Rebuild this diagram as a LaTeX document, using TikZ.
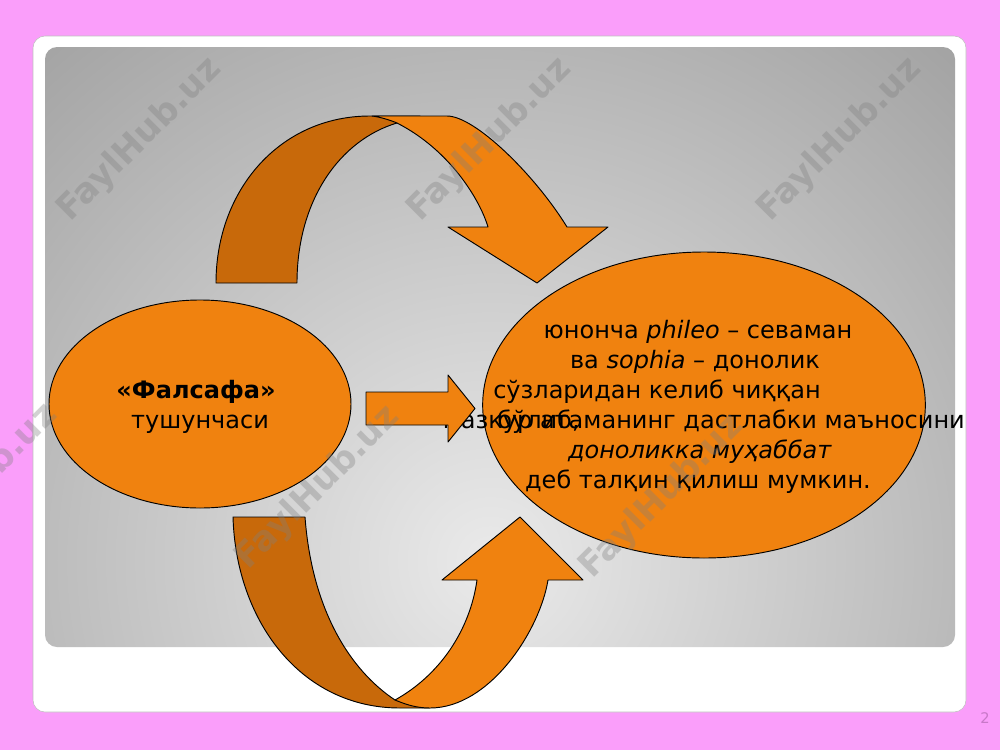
\documentclass[tikz,border=0pt]{standalone}
\usepackage{fontspec}
\setmainfont{DejaVu Sans}
\usetikzlibrary{shapes.geometric}
\definecolor{pinkbg}{RGB}{250,158,250}
\definecolor{pinknum}{RGB}{200,120,200}
\definecolor{flame}{RGB}{240,130,15}
\definecolor{flamedark}{RGB}{200,105,10}
\definecolor{glowin}{RGB}{234,234,234}
\definecolor{glowout}{RGB}{160,160,160}
\begin{document}
\begin{tikzpicture}[x=0.75pt,y=-0.75pt,
  blob/.style={ellipse,fill=flame,draw=black,line width=0.7pt,inner sep=0pt},
  band/.style={fill=flame,draw=black,line width=0.7pt,line join=round},
  bandback/.style={fill=flamedark,draw=black,line width=0.7pt,line join=round},
  txt/.style={anchor=base,inner sep=0pt,font=\fontsize{18}{22}\selectfont},
  wmark/.style={rotate=45,inner sep=0pt,text=gray,text opacity=0.35,
    font=\fontsize{26}{26}\bfseries\selectfont}]
  \useasboundingbox (0,0) rectangle (1000,750);
  \fill[pinkbg] (0,0) rectangle (1000,750);
  \filldraw[fill=white,draw=gray!50,rounded corners=9pt] (33,36) rectangle (966,712);
  % grey panel
  \begin{scope}
    \clip[rounded corners=9pt] (45,47) rectangle (955,647);
    \shade[inner color=glowin,outer color=glowout] (490,560) circle (720);
  \end{scope}

  \node[blob,minimum width=226.5pt,minimum height=156pt] (falsafa) at (200,404) {};
  \node[blob,minimum width=332pt,minimum height=229.5pt] (mano) at (704,405) {};

  \node[txt,font=\fontsize{18}{22}\bfseries\selectfont] (nom) at (196,398) {«Фалсафа»};
  \node[txt] (tush) at (200,428) {тушунчаси};

  \node[txt] (line1) at (698,338) {юнонча \textit{phileo} – севаман};
  \node[txt] (line2) at (695,368) {ва \textit{sophia} – донолик};
  \node[txt,anchor=base west] (line3) at (493,398) {сўзларидан келиб чиққан};
  \node[txt,anchor=base east] (line4) at (965,428) {мазкур атаманинг дастлабки маъносини};
  \node[txt,anchor=base west] (line4a) at (497,428) {бўлиб,};
  \node[txt] (line5) at (700,458) {\textit{доноликка муҳаббат}};
  \node[txt] (line6) at (698,488) {деб талқин қилиш мумкин.};

  % middle arrow
  \filldraw[band] (366,392) -- (448,392) -- (448,375) -- (475,408.5) -- (448,442) -- (448,425) -- (366,425) -- cycle;

  % top arrow
  \filldraw[bandback] (216,283) .. controls (216,190) and (280,116) .. (370,116) -- (420,116) -- (397,123)
    .. controls (340,140) and (297,200) .. (297,283) -- cycle;
  \filldraw[band] (372,116) -- (447,116) .. controls (475,116) and (535,175) .. (567,227) -- (608,227)
    -- (537,283) -- (448,227) -- (488,227) .. controls (480,200) and (450,150) .. (397,123)
    .. controls (390,120) and (380,117) .. (372,116) -- cycle;

  % bottom arrow
  \filldraw[bandback] (233,517) -- (305,517) .. controls (312,610) and (350,670) .. (395,700) -- (430,708)
    -- (400,708) .. controls (300,708) and (236,620) .. (233,517) -- cycle;
  \filldraw[band] (395,700) .. controls (405,704) and (415,708) .. (430,708)
    .. controls (490,708) and (540,630) .. (548,580) -- (583,580) -- (520,517) -- (442,580) -- (477,580)
    .. controls (470,630) and (440,675) .. (395,700) -- cycle;

  \foreach \wx/\wy in {140/140,490/140,840/140,-24/486,318/488,662/497}
    \node[wmark] (fh\wx) at (\wx,\wy) {FaylHub.uz};

  \node[font=\fontsize{11}{12}\selectfont,text=pinknum] (pgnum) at (985,718) {2};
\end{tikzpicture}
\end{document}
